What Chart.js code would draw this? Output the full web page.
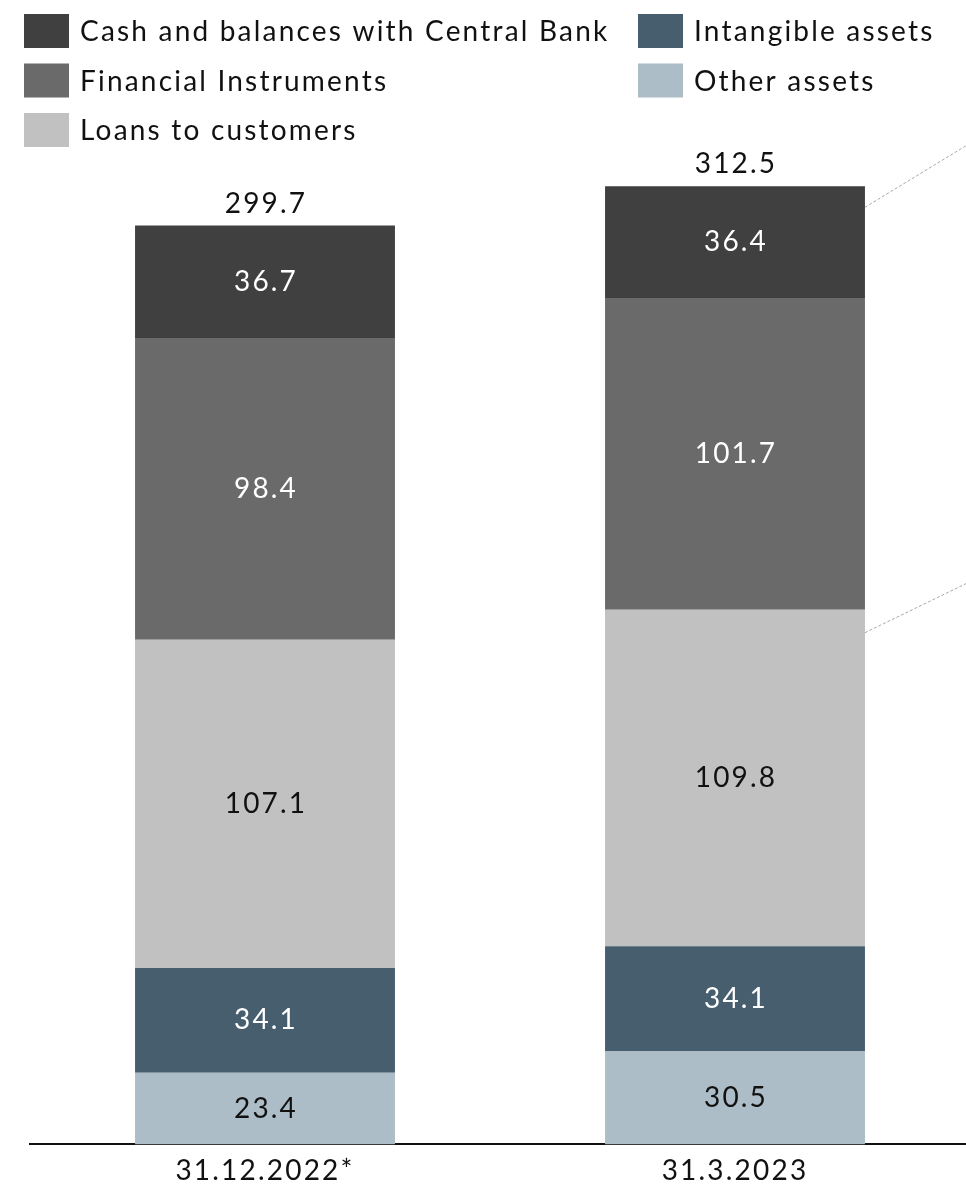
<!DOCTYPE html>
<html>
<head>
<meta charset="utf-8">
<title>Total assets</title>
<script src="https://cdn.jsdelivr.net/npm/chart.js@4.4.1/dist/chart.umd.min.js"></script>
<style>
  html, body { margin: 0; padding: 0; background: #fff; overflow: hidden; }
  canvas { display: block; }
</style>
</head>
<body>
<canvas id="assetsChart" width="970" height="1198"></canvas>
<script>
const periods = ['31.12.2022*', '31.3.2023'];
const otherAssets = [23.4, 30.5];
const intangibleAssets = [34.1, 34.1];
const loansToCustomers = [107.1, 109.8];
const financialInstruments = [98.4, 101.7];
const cashCentralBank = [36.7, 36.4];
const totals = [299.7, 312.5];

const FONT = 'Lato, "Noto Sans", sans-serif';
const INK = '#111111';
const SPACING = '2.2px';

// stacked bottom to top
const datasets = [
  { label: 'Other assets', data: otherAssets, backgroundColor: '#adbdc8', valueColor: INK },
  { label: 'Intangible assets', data: intangibleAssets, backgroundColor: '#475e6f', valueColor: '#ffffff' },
  { label: 'Loans to customers', data: loansToCustomers, backgroundColor: '#c1c1c1', valueColor: INK },
  { label: 'Financial Instruments', data: financialInstruments, backgroundColor: '#6a6a6a', valueColor: '#ffffff' },
  { label: 'Cash and balances with Central Bank', data: cashCentralBank, backgroundColor: '#404040', valueColor: '#ffffff' }
];

// legend layout: two columns, dataset indexes per column
const legendColumns = [[4, 3, 2], [1, 0]];

// wider tracking for every piece of text, tick labels included
const tracking = {
  id: 'tracking',
  beforeDraw(chart) {
    chart.ctx.letterSpacing = SPACING;
  }
};

const legendPlugin = {
  id: 'columnLegend',
  afterDraw(chart) {
    const ctx = chart.ctx;
    const colX = [24, 638];
    ctx.save();
    ctx.letterSpacing = SPACING;
    ctx.font = '28px ' + FONT;
    ctx.textBaseline = 'middle';
    ctx.textAlign = 'left';
    legendColumns.forEach((col, c) => {
      col.forEach((di, r) => {
        const ds = chart.data.datasets[di];
        const x = colX[c];
        const y = 14 + r * 49.5;
        ctx.fillStyle = ds.backgroundColor;
        ctx.fillRect(x, y, 45, 34);
        ctx.fillStyle = INK;
        ctx.fillText(ds.label, x + 56, y + 18);
      });
    });
    ctx.restore();
  }
};

const valueLabels = {
  id: 'valueLabels',
  afterDatasetsDraw(chart) {
    const ctx = chart.ctx;
    ctx.save();
    ctx.letterSpacing = SPACING;
    ctx.font = '28px ' + FONT;
    ctx.textAlign = 'center';
    ctx.textBaseline = 'middle';
    chart.data.datasets.forEach((ds, di) => {
      chart.getDatasetMeta(di).data.forEach((bar, i) => {
        ctx.fillStyle = ds.valueColor;
        ctx.fillText(ds.data[i].toFixed(1), bar.x + 1, (bar.y + bar.base) / 2);
      });
    });
    // totals above each stack
    const topMeta = chart.getDatasetMeta(chart.data.datasets.length - 1);
    ctx.fillStyle = INK;
    ctx.textBaseline = 'alphabetic';
    topMeta.data.forEach((bar, i) => {
      ctx.fillText(totals[i].toFixed(1), bar.x + 1, bar.y - 13);
    });
    ctx.restore();
  }
};

// dotted leader lines off the right side of the latest bar
const leaderLines = {
  id: 'leaderLines',
  afterDatasetsDraw(chart) {
    const ctx = chart.ctx;
    const right = chart.chartArea.right;
    const links = [{ ds: 4, drop: 21, rise: 64 }, { ds: 2, drop: 23, rise: 51 }];
    ctx.save();
    ctx.strokeStyle = '#a8a8a8';
    ctx.lineWidth = 1;
    ctx.setLineDash([3, 2]);
    links.forEach(l => {
      const bar = chart.getDatasetMeta(l.ds).data[1];
      const x0 = bar.x + bar.width / 2;
      const y0 = bar.y + l.drop;
      ctx.beginPath();
      ctx.moveTo(x0, y0);
      ctx.lineTo(right, y0 - l.rise);
      ctx.stroke();
    });
    ctx.restore();
  }
};

document.fonts.load('28px Lato').then(() => {
  new Chart(document.getElementById('assetsChart'), {
    type: 'bar',
    data: {
      labels: periods,
      datasets: datasets.map(d => Object.assign({ borderWidth: 0 }, d))
    },
    options: {
      responsive: false,
      animation: false,
      layout: { padding: { top: 102, left: 30, right: 0, bottom: 0 } },
      datasets: { bar: { categoryPercentage: 1, barPercentage: 0.553 } },
      plugins: {
        legend: { display: false },
        tooltip: { enabled: false }
      },
      scales: {
        x: {
          stacked: true,
          grid: { display: false, drawTicks: false },
          border: { display: true, color: INK, width: 2 },
          ticks: { color: INK, font: { family: FONT, size: 28 }, padding: 10 }
        },
        y: { stacked: true, display: false, min: 0, max: 340 }
      }
    },
    plugins: [tracking, legendPlugin, valueLabels, leaderLines]
  });
});
</script>
</body>
</html>
